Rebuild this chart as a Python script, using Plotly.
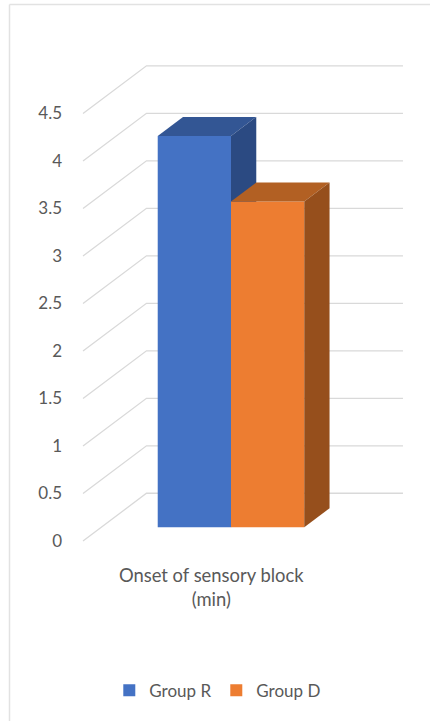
import plotly.graph_objects as go

# Chart data
category = "Onset of sensory block<br>(min)"
groups = ["Group R", "Group D"]
values = [4.12, 3.43]
tick_values = [0, 0.5, 1, 1.5, 2, 2.5, 3, 3.5, 4, 4.5]
tick_labels = ["0", "0.5", "1", "1.5", "2", "2.5", "3", "3.5", "4", "4.5"]

# Face colours: front, top, right side
front_colors = ["#4472C4", "#ED7D31"]
top_colors = ["#335694", "#B26023"]
side_colors = ["#2B4A82", "#964F1C"]

# Oblique projection: how far the full floor depth shifts a point
DEPTH_X = 0.2476   # in category-axis units
DEPTH_Y = 0.502    # in value-axis units
GAP_RATIO = 1.5    # gap width relative to one bar
BAR_WIDTH = 1 / (len(values) + GAP_RATIO)
BAR_SHIFT = 0.006  # small nudge of the bar group along the category axis
BAR_NEAR, BAR_FAR = 0.287, 0.685  # bar extent along the depth axis

WIDTH, HEIGHT = 430, 721
M_LEFT, M_TOP, M_BOTTOM = 66, 60, 158
X_RANGE = [-0.0663, 1.353]
Y_RANGE = [-0.232, 5.063]
TICK_FONT = dict(size=17, color="#595959")


def project(x, v, d):
    return x + d * DEPTH_X, v + d * DEPTH_Y


fig = go.Figure()

# Back wall and side wall gridlines
grid_x, grid_y = [], []
for v in tick_values:
    for x, d in [(0, 0), (0, 1), (1, 1)]:
        px, py = project(x, v, d)
        grid_x.append(px)
        grid_y.append(py)
    grid_x.append(None)
    grid_y.append(None)
fig.add_trace(go.Scatter(x=grid_x, y=grid_y, mode="lines", showlegend=False,
                         hoverinfo="skip", line=dict(color="#D9D9D9", width=1.3)))

# Each bar sits on its own overlaid axes so later bars paint over earlier ones
left_edge = GAP_RATIO / 2 * BAR_WIDTH + BAR_SHIFT
for i, (name, v) in enumerate(zip(groups, values)):
    axes = dict(xaxis=f"x{i + 2}", yaxis=f"y{i + 2}")
    x0 = left_edge + i * BAR_WIDTH
    x1 = x0 + BAR_WIDTH
    fx0, base = project(x0, 0, BAR_NEAR)
    fx1, _ = project(x1, 0, BAR_NEAR)
    fig.add_trace(go.Bar(x=[(fx0 + fx1) / 2], y=[v], base=[base], width=[fx1 - fx0],
                         name=name, marker=dict(color=front_colors[i], line_width=0),
                         hovertemplate=f"{name}: {v}<extra></extra>", **axes))
    top = [project(x0, v, BAR_NEAR), project(x1, v, BAR_NEAR),
           project(x1, v, BAR_FAR), project(x0, v, BAR_FAR)]
    side = [project(x1, 0, BAR_NEAR), project(x1, v, BAR_NEAR),
            project(x1, v, BAR_FAR), project(x1, 0, BAR_FAR)]
    for pts, color in [(top, top_colors[i]), (side, side_colors[i])]:
        fig.add_trace(go.Scatter(x=[p[0] for p in pts], y=[p[1] for p in pts],
                                 mode="lines", fill="toself", fillcolor=color,
                                 line=dict(width=0, color=color), showlegend=False,
                                 hoverinfo="skip", **axes))

hidden = dict(visible=False, fixedrange=True)
frame_x = (9.5 - M_LEFT) / (WIDTH - M_LEFT)
frame_top = (HEIGHT - M_BOTTOM - 4.5) / (HEIGHT - M_TOP - M_BOTTOM)
frame_bottom = -M_BOTTOM / (HEIGHT - M_TOP - M_BOTTOM)
fig.update_layout(
    width=WIDTH,
    height=HEIGHT,
    margin=dict(l=M_LEFT, r=0, t=M_TOP, b=M_BOTTOM, autoexpand=False),
    paper_bgcolor="white",
    plot_bgcolor="rgba(0,0,0,0)",
    font=dict(family="Lato, Carlito, sans-serif", size=17, color="#595959"),
    barmode="overlay",
    xaxis=dict(range=X_RANGE, fixedrange=True, showgrid=False, zeroline=False, showline=False,
               tickmode="array", tickvals=[0.5], ticktext=[category], ticks="",
               tickfont=dict(size=18.4, color="#595959")),
    yaxis=dict(range=Y_RANGE, fixedrange=True, showgrid=False, zeroline=False, showline=False,
               tickmode="array", tickvals=tick_values, ticktext=tick_labels, ticks="",
               ticklabelstandoff=3, tickfont=TICK_FONT),
    xaxis2=dict(overlaying="x", range=X_RANGE, **hidden),
    yaxis2=dict(overlaying="y", range=Y_RANGE, **hidden),
    xaxis3=dict(overlaying="x", range=X_RANGE, **hidden),
    yaxis3=dict(overlaying="y", range=Y_RANGE, **hidden),
    legend=dict(orientation="h", xref="container", yref="container", x=0.503, xanchor="center",
                y=0.042, yanchor="middle", font=dict(size=17, color="#595959"),
                entrywidth=62, entrywidthmode="pixels", bgcolor="rgba(0,0,0,0)"),
    shapes=[
        # Chart-area frame along the top and left edges
        dict(type="line", xref="paper", yref="paper", layer="below",
             x0=frame_x, x1=1.0, y0=frame_top, y1=frame_top,
             line=dict(color="#E2E2E2", width=1.5)),
        dict(type="line", xref="paper", yref="paper", layer="below",
             x0=frame_x, x1=frame_x, y0=frame_top, y1=frame_bottom,
             line=dict(color="#E2E2E2", width=1.5)),
    ],
)

fig.write_html("out.html", config=dict(displayModeBar=False))
